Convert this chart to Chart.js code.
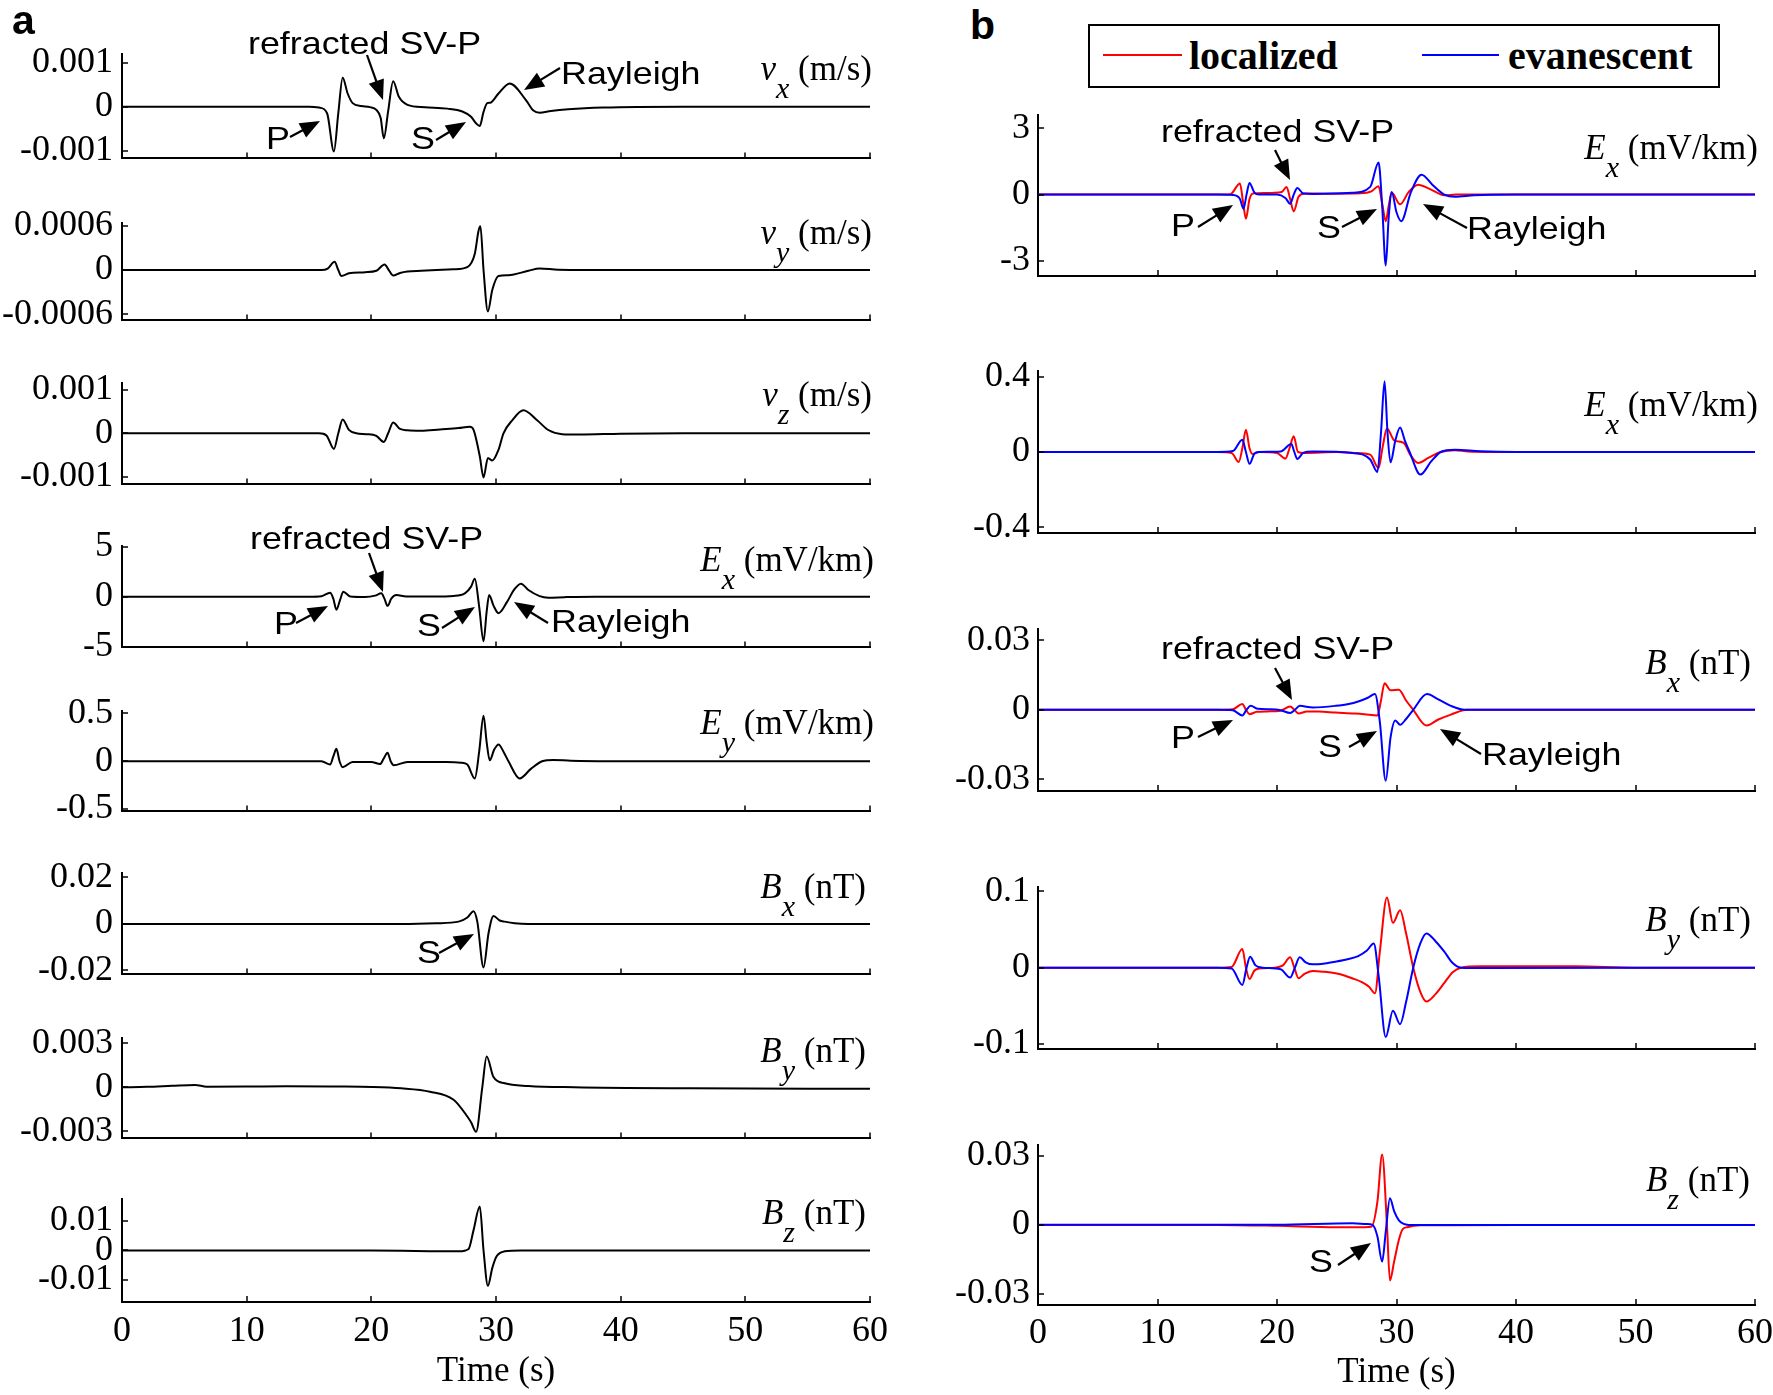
<!DOCTYPE html>
<html>
<head>
<meta charset="utf-8">
<script src="https://cdn.jsdelivr.net/npm/chart.js@4.4.1/dist/chart.umd.min.js"></script>
<style>
html,body{margin:0;padding:0;background:#fff;width:1773px;height:1395px;overflow:hidden;position:relative;}
canvas{position:absolute;}
.txt{position:absolute;white-space:nowrap;color:#000;z-index:5;}
.ann{font-family:'Liberation Sans',Arial,sans-serif;font-size:32px;line-height:1;transform-origin:0 0;transform:translateY(-50%) scaleX(1.12);}
.mlab{font-family:'Liberation Serif','Times New Roman',serif;font-size:35px;line-height:1;}
.mlab .it{font-style:italic;}
.mlab .sub{font-style:italic;font-size:30px;position:relative;top:18px;}
.leg{font-family:'Liberation Serif','Times New Roman',serif;font-weight:bold;font-size:40px;line-height:1;}
.plab{font-family:'Liberation Sans',Arial,sans-serif;font-weight:bold;font-size:41px;line-height:1;}
svg{position:absolute;left:0;top:0;z-index:6;}
</style>
</head>
<body>
<script>
// ---------------- shared axis data ----------------
const xTicks = [0, 10, 20, 30, 40, 50, 60];
const xTickLabels = ['0', '10', '20', '30', '40', '50', '60'];
const xTitle = 'Time (s)';

// ---------------- panel a ----------------
const vxTime = [0,10,15,15.8,16.45,17.0,17.35,17.7,18.1,18.5,19.2,19.9,20.4,20.75,21.0,21.35,21.75,22.2,22.9,24.3,26.1,27.3,28.0,28.4,28.7,29.0,29.3,29.55,30.2,31.1,32.4,33.0,33.5,34.4,35.8,38.6,45,60];
const vxVal  = [0,0,0,-0.00002,-0.00015,-0.00102,-0.00015,0.00066,0.0003,0.00008,0.000015,-0.00001,-0.000075,-0.00026,-0.00072,-0.0001,0.00058,0.00023,0.00004,-0.000015,-0.000045,-0.00011,-0.00023,-0.00038,-0.00044,-0.00012,0.00008,0.00009,0.0003,0.00053,0.00015,-0.00009,-0.00014,-0.0001,-0.00006,-0.00002,0,0];
const vxTicks = [-0.001, 0, 0.001];
const vxTickLabels = ['-0.001', '0', '0.001'];

const vyTime = [0,15,16.0,16.5,17.05,17.35,17.6,18.2,19.5,20.4,21.06,21.4,21.75,22.3,22.9,24,26.6,27.7,28.3,28.6,28.75,29.0,29.35,29.7,30.2,31,32.6,33.5,35,40,60];
const vyVal  = [0,0,0,0.00002,0.00011,0,-0.00008,-0.000045,-0.00003,-0.00001,0.000075,0,-0.000075,-0.00004,-0.00002,-0.00001,0.00001,0.00004,0.00022,0.00053,0.00059,0,-0.00056,-0.00027,-0.00008,-0.00007,-0.00001,0.00002,0.000005,0,0];
const vyTicks = [-0.0006, 0, 0.0006];
const vyTickLabels = ['-0.0006', '0', '0.0006'];

const vzTime = [0,15,15.8,16.4,17.0,17.35,17.7,18.2,18.8,19.6,20.4,21.0,21.35,21.75,22.3,22.9,24,25.5,27,27.9,28.2,28.7,29.0,29.35,29.7,30.2,30.6,31.3,32.2,33.3,34.2,35.3,36.7,40,45,60];
const vzVal  = [0,0,0,-0.00005,-0.00036,0,0.00032,0.00008,0,-0.00002,-0.00006,-0.0002,0,0.00025,0.0001,0.00007,0.00006,0.00009,0.00012,0.00015,0.00008,-0.00053,-0.00102,-0.00057,-0.00063,-0.00038,0,0.0003,0.00053,0.0003,0.000076,-0.00002,-0.00003,-0.00001,0,0];
const vzTicks = [-0.001, 0, 0.001];
const vzTickLabels = ['-0.001', '0', '0.001'];

const exATime = [0,15,16.0,16.7,16.95,17.2,17.5,17.75,18.3,19.5,20.3,20.8,21.05,21.3,21.6,22.0,22.8,25,26.6,27.5,28.0,28.3,28.65,29.0,29.25,29.45,29.8,30.2,30.9,31.4,32.0,32.6,33.5,34.2,35.5,38,60];
const exAVal  = [0,0,0.05,0.4,-0.2,-1.3,-0.3,0.5,0.02,-0.03,0.1,0.33,-0.2,-0.92,-0.2,0.16,0.02,0.02,0.07,0.33,1.0,1.8,-1.0,-4.45,-1.5,0.16,-0.9,-1.65,-0.5,0.6,1.3,0.66,0.05,-0.1,-0.05,0,0];
const exATicks = [-5, 0, 5];
const exATickLabels = ['-5', '0', '5'];

const eyTime = [0,15,16.0,16.7,16.95,17.2,17.45,17.7,18.5,20.0,20.7,21.0,21.3,21.55,21.8,22.9,26,27.2,27.7,28.3,28.65,29.0,29.25,29.5,29.85,30.2,30.6,31.0,31.9,32.8,33.7,34.6,36,40,60];
const eyVal  = [0,0,0,-0.035,0.05,0.13,0,-0.063,-0.007,-0.007,-0.03,0.03,0.088,0,-0.042,-0.007,-0.007,-0.015,-0.035,-0.18,0.1,0.475,0.2,0.01,0.12,0.176,0.1,0,-0.18,-0.08,0,0.014,0.005,0,0];
const eyTicks = [-0.5, 0, 0.5];
const eyTickLabels = ['-0.5', '0', '0.5'];

const bxATime = [0,20,22.4,25.2,27.0,27.7,28.2,28.5,29.0,29.4,29.8,30.3,30.7,31.5,32.6,60];
const bxAVal  = [0,0,0,0.0003,0.001,0.0028,0.0055,0.001,-0.0187,-0.004,0.0034,0.0015,0.001,0.0003,0,0];
const bxATicks = [-0.02, 0, 0.02];
const bxATickLabels = ['-0.02', '0', '0.02'];

const byATime = [0,2,4,5.85,6.8,10,13.2,17,20.1,22.4,24.7,26.6,27.7,28.0,28.4,28.9,29.25,29.8,30.7,32.6,36.3,45.5,60];
const byAVal  = [0,0.00003,0.0001,0.00016,0.00004,0.00005,0.00007,0.00005,0.00002,-0.00007,-0.0003,-0.00085,-0.002,-0.0024,-0.00305,0,0.0021,0.0007,0.00027,0.00009,0,-0.00007,-0.0001];
const byATicks = [-0.003, 0, 0.003];
const byATickLabels = ['-0.003', '0', '0.003'];

const bzATime = [0,20,27.05,27.8,28.2,28.7,29.0,29.35,29.7,30.05,30.7,32,60];
const bzAVal  = [0,0,-0.0003,0.0005,0.0069,0.0149,0,-0.012,-0.006,-0.002,-0.0003,0,0];
const bzATicks = [-0.01, 0, 0.01];
const bzATickLabels = ['-0.01', '0', '0.01'];

// ---------------- panel b (localized = red, evanescent = blue) ----------------
const seriesNames = ['localized', 'evanescent'];

const ex1LocTime = [0,15,16.1,16.9,17.15,17.4,17.7,18.0,19.0,19.7,20.4,20.8,21.1,21.4,21.8,22.3,24,27,27.9,28.5,28.8,29.1,29.35,29.6,30.3,31.0,31.8,32.8,34.0,35,60];
const ex1LocVal  = [0,0,0.02,0.5,-0.3,-1.09,-0.2,0.05,0.07,0.08,0.12,0.35,-0.2,-0.76,-0.1,0.05,0.04,0.06,0.15,0.38,-0.4,-1.2,-0.5,0.08,-0.44,0.1,0.45,0.25,-0.03,0,0];
const ex1EvaTime = [0,15,16.3,16.9,17.2,17.45,17.7,18.1,18.5,20.0,20.7,21.1,21.4,21.7,22.2,23,26.3,27.8,28.5,28.8,29.1,29.35,29.6,30.0,30.4,31.2,32.1,33.0,34.0,34.9,36.5,40,60];
const ex1EvaVal  = [0,0,-0.02,-0.2,-0.64,0,0.53,0.1,0,0,-0.15,-0.41,0,0.3,0.05,0.03,0.08,0.35,1.45,-0.5,-3.2,-1.0,0.12,-0.8,-1.2,0.1,0.9,0.45,0,-0.1,-0.03,0,0];
const ex1Ticks = [-3, 0, 3];
const ex1TickLabels = ['-3', '0', '3'];

const ex2LocTime = [0,15,16.2,16.8,17.1,17.4,17.7,17.95,18.5,20.0,20.7,21.05,21.4,21.75,22.3,25,26.5,27.8,28.5,28.85,29.2,29.8,30.6,31.2,31.8,32.7,33.7,34.9,36,40,60];
const ex2LocVal  = [0,0,-0.005,-0.053,0.02,0.118,0.02,-0.01,0,-0.005,-0.035,0.02,0.083,0,-0.005,0,-0.005,-0.014,-0.085,0.03,0.125,0.062,0.048,-0.02,-0.058,-0.03,0,0.009,0.003,0,0];
const ex2EvaTime = [0,15,16.3,17.1,17.4,17.7,18.1,18.5,20.3,21.2,21.45,21.7,22.2,23,26.3,27.8,28.4,28.7,29.0,29.25,29.5,29.9,30.3,30.7,31.1,32.0,32.9,33.7,34.9,37,40,60];
const ex2EvaVal  = [0,0,0.005,0.065,0,-0.063,-0.01,0,0.003,0.042,0,-0.037,-0.005,0.002,-0.005,-0.04,-0.106,0.1,0.375,0.1,-0.055,0.06,0.13,0.06,0,-0.12,-0.05,0,0.012,0.004,0,0];
const ex2Ticks = [-0.4, 0, 0.4];
const ex2TickLabels = ['-0.4', '0', '0.4'];

const bxBLocTime = [0,15,16.3,17.1,17.4,17.7,18.3,19.2,20.3,21.1,21.45,21.8,22.5,23.5,24.9,26.5,27.3,28.4,28.7,29.0,29.5,30.2,30.8,31.4,32.5,33.5,34.5,35.9,60];
const bxBLocVal  = [0,0,0.0002,0.0025,0,-0.0019,-0.0009,-0.0007,-0.0004,0.0014,0,-0.0016,-0.0008,-0.0008,-0.0012,-0.0016,-0.0019,-0.0025,0.004,0.0115,0.0084,0.0087,0.004,0,-0.0068,-0.0042,-0.0022,0,0];
const bxBEvaTime = [0,15,16.3,17.1,17.45,17.8,18.4,19.5,20.3,21.1,21.5,21.9,23.0,24.9,26.0,26.8,27.6,28.2,28.6,29.1,29.5,29.9,30.3,30.8,31.4,32.55,33.5,34.5,35.7,60];
const bxBEvaVal  = [0,0,-0.0002,-0.0025,0,0.0017,0.0004,0.0002,-0.0002,-0.0014,0,0.0017,0.001,0.0017,0.0025,0.0036,0.0052,0.0068,-0.005,-0.0307,-0.012,-0.0046,-0.0065,-0.004,0,0.0068,0.0045,0.0018,0,0];
const bxBTicks = [-0.03, 0, 0.03];
const bxBTickLabels = ['-0.03', '0', '0.03'];

const byBLocTime = [0,15,16.2,17.1,17.4,17.7,18.1,18.5,19.8,20.5,21.1,21.45,21.8,22.3,23.0,24.0,24.9,25.7,26.3,27.1,27.7,28.2,28.6,29.2,29.7,30.3,30.8,31.4,32.0,32.5,33.3,34.0,34.7,35.4,37,45,50,60];
const byBLocVal  = [0,0,0.001,0.0243,0,-0.0148,-0.004,-0.001,0,0.003,0.0135,0,-0.0139,-0.008,-0.0043,-0.0055,-0.0074,-0.0105,-0.0139,-0.019,-0.025,-0.0335,0.02,0.0917,0.0587,0.075,0.045,0,-0.032,-0.0443,-0.034,-0.02,-0.006,0,0.0017,0.0017,0,0];
const byBEvaTime = [0,15,16.2,17.1,17.45,17.75,18.2,18.8,20.3,21.1,21.5,21.9,22.4,23.0,24.0,24.9,25.9,26.8,27.5,28.1,28.5,29.1,29.7,30.3,30.8,31.4,32.0,32.5,33.3,34.0,34.7,35.4,37,60];
const byBEvaVal  = [0,0,-0.001,-0.0226,0,0.0143,0.003,0,-0.002,-0.013,0,0.0135,0.007,0.0043,0.0055,0.0078,0.011,0.0152,0.022,0.0317,-0.01,-0.0909,-0.0565,-0.074,-0.045,0,0.032,0.0448,0.034,0.021,0.006,0,-0.0005,0];
const byBTicks = [-0.1, 0, 0.1];
const byBTickLabels = ['-0.1', '0', '0.1'];

const bzBLocTime = [0,15,20.1,24.9,27.3,27.9,28.4,28.8,29.2,29.45,29.8,30.2,30.5,30.9,32,40,60];
const bzBLocVal  = [0,0,-0.0004,-0.001,-0.001,-0.0008,0.01,0.0307,0,-0.0242,-0.016,-0.0065,-0.002,-0.001,-0.0002,0,0];
const bzBEvaTime = [0,20,26.3,27.5,28.0,28.4,28.8,29.1,29.45,29.8,30.2,30.6,31,60];
const bzBEvaVal  = [0.0001,0.0001,0.0007,0.0004,0,-0.005,-0.016,-0.003,0.0116,0.006,0.002,0.0004,0,0];
const bzBTicks = [-0.03, 0, 0.03];
const bzBTickLabels = ['-0.03', '0', '0.03'];

// ---------------- styles & layout ----------------
const BLACK = '#000000', RED = '#ff0000', BLUE = '#0000ff';
const SERIF = "'Liberation Serif','Times New Roman',serif";
const TICK_SIZE = 36;
const COLS = [
  {canvasLeft: 0, canvasW: 900, xL: 122, xR: 870, yPad: 9},
  {canvasLeft: 880, canvasW: 920, xL: 1038, xR: 1755, yPad: 8}
];
const loc = (t, v) => ({t, v, c: RED, order: 2});
const eva = (t, v) => ({t, v, c: BLUE, order: 1});
const blk = (t, v) => ({t, v, c: BLACK, order: 1});

const panels = [
  {col:0, top:53,   bottom:159,  ymin:-0.00118, ymax:0.00121, ticks:vxTicks,  labels:vxTickLabels,  series:[blk(vxTime, vxVal)]},
  {col:0, top:222,  bottom:321,  ymin:-0.00068, ymax:0.00064, ticks:vyTicks,  labels:vyTickLabels,  series:[blk(vyTime, vyVal)]},
  {col:0, top:382,  bottom:485,  ymin:-0.00118, ymax:0.00117, ticks:vzTicks,  labels:vzTickLabels,  series:[blk(vzTime, vzVal)]},
  {col:0, top:545,  bottom:648,  ymin:-5.07,    ymax:5.1,     ticks:exATicks, labels:exATickLabels, series:[blk(exATime, exAVal)]},
  {col:0, top:710,  bottom:812,  ymin:-0.525,   ymax:0.53,    ticks:eyTicks,  labels:eyTickLabels,  series:[blk(eyTime, eyVal)]},
  {col:0, top:872,  bottom:975,  ymin:-0.0217,  ymax:0.0221,  ticks:bxATicks, labels:bxATickLabels, series:[blk(bxATime, bxAVal)]},
  {col:0, top:1037, bottom:1139, ymin:-0.0035,  ymax:0.0034,  ticks:byATicks, labels:byATickLabels, series:[blk(byATime, byAVal)]},
  {col:0, top:1198, bottom:1302, ymin:-0.0175,  ymax:0.0176,  ticks:bzATicks, labels:bzATickLabels, series:[blk(bzATime, bzAVal)], xlab:true, tickPad:8, titlePad:9},
  {col:1, top:115,  bottom:276,  ymin:-3.68,    ymax:3.6,     ticks:ex1Ticks, labels:ex1TickLabels, series:[eva(ex1EvaTime, ex1EvaVal), loc(ex1LocTime, ex1LocVal)]},
  {col:1, top:371,  bottom:533,  ymin:-0.43,    ymax:0.43,    ticks:ex2Ticks, labels:ex2TickLabels, series:[eva(ex2EvaTime, ex2EvaVal), loc(ex2LocTime, ex2LocVal)]},
  {col:1, top:629,  bottom:791,  ymin:-0.0351,  ymax:0.0349,  ticks:bxBTicks, labels:bxBTickLabels, series:[eva(bxBEvaTime, bxBEvaVal), loc(bxBLocTime, bxBLocVal)]},
  {col:1, top:887,  bottom:1049, ymin:-0.1065,  ymax:0.1056,  ticks:byBTicks, labels:byBTickLabels, series:[eva(byBEvaTime, byBEvaVal), loc(byBLocTime, byBLocVal)]},
  {col:1, top:1145, bottom:1305, ymin:-0.0349,  ymax:0.0348,  ticks:bzBTicks, labels:bzBTickLabels, series:[eva(bzBEvaTime, bzBEvaVal), loc(bzBLocTime, bzBLocVal)], xlab:true, tickPad:7, titlePad:11}
];

const mathLabels = [
  {sym:'v', sub:'x', unit:'(m/s)',   right:872,  yc:71},
  {sym:'v', sub:'y', unit:'(m/s)',   right:872,  yc:235},
  {sym:'v', sub:'z', unit:'(m/s)',   right:872,  yc:397},
  {sym:'E', sub:'x', unit:'(mV/km)', right:874,  yc:562},
  {sym:'E', sub:'y', unit:'(mV/km)', right:874,  yc:725},
  {sym:'B', sub:'x', unit:'(nT)',    right:866,  yc:889},
  {sym:'B', sub:'y', unit:'(nT)',    right:866,  yc:1053},
  {sym:'B', sub:'z', unit:'(nT)',    right:866,  yc:1215},
  {sym:'E', sub:'x', unit:'(mV/km)', right:1758, yc:150},
  {sym:'E', sub:'x', unit:'(mV/km)', right:1758, yc:407},
  {sym:'B', sub:'x', unit:'(nT)',    right:1751, yc:665},
  {sym:'B', sub:'y', unit:'(nT)',    right:1751, yc:922},
  {sym:'B', sub:'z', unit:'(nT)',    right:1750, yc:1182}
];

const annTexts = [
  {s:'refracted SV-P', x:248, y:43}, {s:'Rayleigh', x:561, y:73}, {s:'P', x:266, y:138}, {s:'S', x:411, y:138},
  {s:'refracted SV-P', x:250, y:538}, {s:'P', x:274, y:623}, {s:'S', x:417, y:625}, {s:'Rayleigh', x:551, y:621},
  {s:'S', x:417, y:952},
  {s:'refracted SV-P', x:1161, y:131}, {s:'P', x:1171, y:225}, {s:'S', x:1317, y:227}, {s:'Rayleigh', x:1467, y:228},
  {s:'refracted SV-P', x:1161, y:648}, {s:'P', x:1171, y:737}, {s:'S', x:1318, y:746}, {s:'Rayleigh', x:1482, y:754},
  {s:'S', x:1309, y:1261}
];
const arrows = [
  [290,137,320,121],[367,55,383,100],[436,140,466,122],[560,68,524,90],
  [369,553,383,592],[296,623,328,606],[442,628,475,607],[548,623,514,602],
  [439,953,474,934],
  [1275,150,1290,180],[1198,227,1233,205],[1342,227,1377,209],[1467,228,1423,204],
  [1275,668,1292,700],[1198,737,1233,720],[1349,747,1377,731],[1481,754,1440,729],
  [1338,1265,1371,1243]
];

// ---------------- plugin: inward tick marks ----------------
const inwardTicks = {
  id: 'inwardTicks',
  afterDatasetsDraw(chart) {
    const {ctx, chartArea, scales} = chart;
    ctx.save();
    ctx.strokeStyle = '#000';
    ctx.lineWidth = 1.5;
    scales.x.ticks.forEach(t => {
      const px = Math.round(scales.x.getPixelForValue(t.value));
      ctx.beginPath(); ctx.moveTo(px, chartArea.bottom); ctx.lineTo(px, chartArea.bottom - 6); ctx.stroke();
    });
    scales.y.ticks.forEach(t => {
      const py = Math.round(scales.y.getPixelForValue(t.value));
      ctx.beginPath(); ctx.moveTo(chartArea.left, py); ctx.lineTo(chartArea.left + 6, py); ctx.stroke();
    });
    ctx.restore();
  }
};

function buildPanel(p) {
  const col = COLS[p.col];
  const xH = p.xlab ? 100 : 30;
  const cw = col.canvasW;
  const ch = 30 + (p.bottom - p.top) + xH;
  const cv = document.createElement('canvas');
  cv.width = cw; cv.height = ch;
  cv.style.left = col.canvasLeft + 'px';
  cv.style.top = (p.top - 30) + 'px';
  cv.style.width = cw + 'px';
  cv.style.height = ch + 'px';
  document.body.appendChild(cv);
  new Chart(cv, {
    type: 'line',
    data: {
      datasets: p.series.map(s => ({
        data: s.t.map((t, i) => ({x: t, y: s.v[i]})),
        borderColor: s.c, borderWidth: 2, pointRadius: 0, fill: false,
        cubicInterpolationMode: 'monotone', borderJoinStyle: 'round', order: s.order
      }))
    },
    options: {
      responsive: false, animation: false, devicePixelRatio: 1,
      layout: {padding: {top: 30, left: 0, bottom: 0, right: cw - (col.xR - col.canvasLeft)}},
      plugins: {legend: {display: false}, tooltip: {enabled: false}},
      scales: {
        x: {
          type: 'linear', min: 0, max: 60,
          grid: {display: false, drawTicks: false},
          border: {display: true, color: '#000', width: 2},
          ticks: {display: !!p.xlab, padding: p.tickPad || 0, maxRotation: 0, autoSkip: false,
                  font: {family: SERIF, size: TICK_SIZE}, color: '#000',
                  callback: (v, i) => xTickLabels[i]},
          afterBuildTicks: a => { a.ticks = xTicks.map(v => ({value: v})); },
          afterFit: a => { a.height = xH; },
          title: {display: !!p.xlab, text: xTitle, color: '#000',
                  font: {family: SERIF, size: 35}, padding: {top: 0, bottom: p.titlePad || 0}}
        },
        y: {
          type: 'linear', min: p.ymin, max: p.ymax,
          grid: {display: false, drawTicks: false},
          border: {display: true, color: '#000', width: 2},
          ticks: {padding: col.yPad, font: {family: SERIF, size: TICK_SIZE}, color: '#000', autoSkip: false,
                  callback: (v, i) => p.labels[i]},
          afterBuildTicks: a => { a.ticks = p.ticks.map(v => ({value: v})); },
          afterFit: a => { a.width = col.xL - col.canvasLeft; }
        }
      }
    },
    plugins: [inwardTicks]
  });
}
panels.forEach(buildPanel);

// ---------------- text overlays ----------------
function addDiv(cls, html, style) {
  const d = document.createElement('div');
  d.className = 'txt ' + cls;
  d.innerHTML = html;
  Object.assign(d.style, style);
  document.body.appendChild(d);
  return d;
}
mathLabels.forEach(m => {
  addDiv('mlab', '<span class="it">' + m.sym + '</span><span class="sub">' + m.sub + '</span> ' + m.unit,
         {right: (1773 - m.right) + 'px', top: (m.yc - 20) + 'px'});
});
annTexts.forEach(a => {
  const d = addDiv('ann', '', {left: a.x + 'px', top: a.y + 'px'});
  d.textContent = a.s;
});
addDiv('plab', 'a', {left: '12px', top: '0px'});
addDiv('plab', 'b', {left: '970px', top: '5px'});

// legend (series names from seriesNames)
const legBox = document.createElement('div');
Object.assign(legBox.style, {position: 'absolute', left: '1088px', top: '24px', width: '632px', height: '64px',
  border: '2px solid #000', boxSizing: 'border-box', zIndex: 4, background: '#fff'});
document.body.appendChild(legBox);
const legItems = [{x: 1103, w: 79, c: RED, tx: 1189, name: seriesNames[0]}, {x: 1422, w: 77, c: BLUE, tx: 1508, name: seriesNames[1]}];
legItems.forEach(it => {
  const ln = document.createElement('div');
  Object.assign(ln.style, {position: 'absolute', left: it.x + 'px', top: '54px', width: it.w + 'px', height: '2px', background: it.c, zIndex: 5});
  document.body.appendChild(ln);
  const d = addDiv('leg', '', {left: it.tx + 'px', top: '36px'});
  d.textContent = it.name;
});

// arrows
const NS = 'http://www.w3.org/2000/svg';
const svg = document.createElementNS(NS, 'svg');
svg.setAttribute('width', '1773'); svg.setAttribute('height', '1395');
arrows.forEach(([x1, y1, x2, y2]) => {
  const dx = x2 - x1, dy = y2 - y1, L = Math.hypot(dx, dy);
  const ux = dx / L, uy = dy / L, hl = 20, hw = 8;
  const bx = x2 - ux * hl, by = y2 - uy * hl;
  const line = document.createElementNS(NS, 'line');
  line.setAttribute('x1', x1); line.setAttribute('y1', y1);
  line.setAttribute('x2', bx + ux * 2); line.setAttribute('y2', by + uy * 2);
  line.setAttribute('stroke', '#000'); line.setAttribute('stroke-width', '2.2');
  svg.appendChild(line);
  const poly = document.createElementNS(NS, 'polygon');
  poly.setAttribute('points', [x2, y2, bx - uy * hw, by + ux * hw, bx + uy * hw, by - ux * hw].join(','));
  poly.setAttribute('fill', '#000');
  svg.appendChild(poly);
});
document.body.appendChild(svg);
</script>
</body>
</html>
